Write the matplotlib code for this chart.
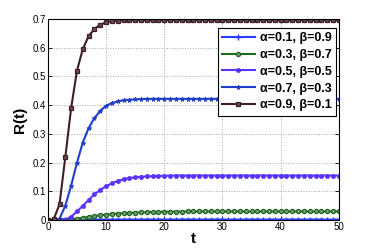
import numpy as np
import matplotlib
matplotlib.use('Agg')
import matplotlib.pyplot as plt

plt.rcParams['font.family'] = ['Liberation Sans', 'DejaVu Sans']

t = list(range(51))

r1 = [0.0, 0.001, 0.002, 0.002, 0.002, 0.002, 0.002, 0.002, 0.002, 0.002,
      0.002, 0.002, 0.002, 0.002, 0.002, 0.002, 0.002, 0.002, 0.002, 0.002,
      0.002, 0.002, 0.002, 0.002, 0.002, 0.002, 0.002, 0.002, 0.002, 0.002,
      0.002, 0.002, 0.002, 0.002, 0.002, 0.002, 0.002, 0.002, 0.002, 0.002,
      0.002, 0.002, 0.002, 0.002, 0.002, 0.002, 0.002, 0.002, 0.002, 0.002, 0.002]
r2 = [0.0, 0.0, 0.0, 0.001, 0.003, 0.005, 0.008, 0.011, 0.014, 0.017,
      0.019, 0.021, 0.023, 0.024, 0.025, 0.026, 0.027, 0.0275, 0.028, 0.0285,
      0.029, 0.029, 0.0295, 0.0295, 0.03, 0.03, 0.03, 0.03, 0.03, 0.03,
      0.03, 0.03, 0.03, 0.03, 0.03, 0.03, 0.03, 0.03, 0.03, 0.03,
      0.03, 0.03, 0.03, 0.03, 0.03, 0.03, 0.03, 0.03, 0.03, 0.03, 0.03]
r3 = [0.0, 0.0, 0.0, 0.002, 0.012, 0.03, 0.05, 0.07, 0.09, 0.105,
      0.118, 0.128, 0.136, 0.142, 0.146, 0.149, 0.151, 0.152, 0.153, 0.154,
      0.154, 0.155, 0.155, 0.155, 0.155, 0.155, 0.155, 0.155, 0.155, 0.155,
      0.155, 0.155, 0.155, 0.155, 0.155, 0.155, 0.155, 0.155, 0.155, 0.155,
      0.155, 0.155, 0.155, 0.155, 0.155, 0.155, 0.155, 0.155, 0.155, 0.155, 0.155]
r4 = [0.0, 0.0, 0.005, 0.05, 0.12, 0.2, 0.27, 0.32, 0.355, 0.38,
      0.398, 0.407, 0.413, 0.417, 0.419, 0.42, 0.421, 0.422, 0.422, 0.422,
      0.422, 0.422, 0.422, 0.422, 0.422, 0.422, 0.422, 0.422, 0.422, 0.422,
      0.422, 0.422, 0.422, 0.422, 0.422, 0.422, 0.422, 0.422, 0.422, 0.422,
      0.422, 0.422, 0.422, 0.422, 0.422, 0.422, 0.422, 0.422, 0.422, 0.422, 0.422]
r5 = [0.0, 0.003, 0.055, 0.22, 0.39, 0.52, 0.595, 0.64, 0.665, 0.68,
      0.688, 0.692, 0.694, 0.695, 0.695, 0.695, 0.695, 0.695, 0.695, 0.695,
      0.695, 0.695, 0.695, 0.695, 0.695, 0.695, 0.695, 0.695, 0.695, 0.695,
      0.695, 0.695, 0.695, 0.695, 0.695, 0.695, 0.695, 0.695, 0.695, 0.695,
      0.695, 0.695, 0.695, 0.695, 0.695, 0.695, 0.695, 0.695, 0.695, 0.695, 0.695]

labels = ['α=0.1, β=0.9', 'α=0.3, β=0.7', 'α=0.5, β=0.5', 'α=0.7, β=0.3', 'α=0.9, β=0.1']

fig = plt.figure(figsize=(3.74, 2.49), dpi=100)
ax = fig.add_axes([0.128, 0.116, 0.778, 0.808])

ax.plot(t, r1, color='#2a3cff', lw=1.5, marker='+', ms=4, mew=1.0, label=labels[0])
ax.plot(t, r2, color='#1e6a1e', lw=1.5, marker='o', ms=3, mew=0.9, mfc='#7a9a7a', label=labels[1])
ax.plot(t, r3, color='#5a35ff', lw=1.5, marker='o', ms=3, mew=0.5, label=labels[2])
ax.plot(t, r4, color='#1f3fc8', lw=1.5, marker='*', ms=3.5, mew=0.6, label=labels[3])
ax.plot(t, r5, color='#3f1f27', lw=1.5, marker='s', ms=3.2, mew=0.9, mfc='#6a4a50', label=labels[4])

ax.set_xlim(0, 50)
ax.set_ylim(0, 0.7)
ax.set_xticks([0, 10, 20, 30, 40, 50])
ax.set_yticks([0, 0.1, 0.2, 0.3, 0.4, 0.5, 0.6, 0.7])
ax.set_yticklabels(['0', '0.1', '0.2', '0.3', '0.4', '0.5', '0.6', '0.7'])
ax.tick_params(direction='in', labelsize=7, length=3, width=0.6, top=True, right=True, pad=1.5)
ax.grid(True, linestyle=':', color='#aaaaaa', lw=0.7)
for s in ax.spines.values():
    s.set_linewidth(0.8)

ax.set_xlabel('t', fontsize=11, fontweight='bold', labelpad=0)
ax.set_ylabel('R(t)', fontsize=11, fontweight='bold', labelpad=4)

leg = ax.legend(loc='upper right', prop={'weight': 'bold', 'size': 9},
                frameon=True, fancybox=False, edgecolor='black', framealpha=1,
                handlelength=2.6, borderpad=0.35, labelspacing=0.38, handletextpad=0.4,
                borderaxespad=0, bbox_to_anchor=(0.99, 0.955))
leg.get_frame().set_linewidth(0.8)

plt.savefig('out.png', dpi=100)
